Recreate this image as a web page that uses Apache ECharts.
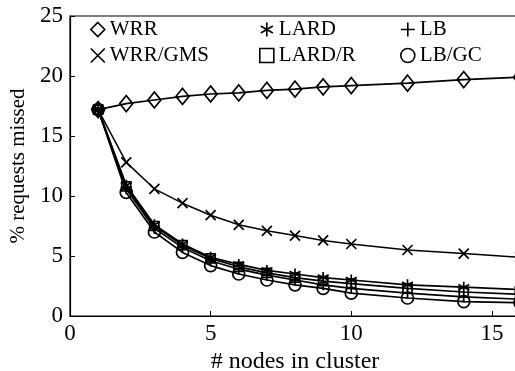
<!DOCTYPE html>
<html>
<head>
<meta charset="utf-8">
<script src="https://cdn.jsdelivr.net/npm/echarts@6/dist/echarts.min.js"></script>
<style>
    html, body { margin: 0; padding: 0; background: #fff; }
    #chart { width: 515px; height: 371px; }
</style>
</head>
<body>
<div id="chart"></div>
<script>
// nodes in cluster
var nodes = [1, 2, 3, 4, 5, 6, 7, 8, 9, 10, 12, 14, 16];
var xTicks = [0, 5, 10, 15];
var yTicks = [0, 5, 10, 15, 20, 25];

// % requests missed
var wrr    = [17.2, 17.7, 18.0, 18.3, 18.5, 18.6, 18.8, 18.9, 19.1, 19.2, 19.4, 19.7, 19.9];
var wrrGms = [17.2, 12.8, 10.6, 9.4, 8.4, 7.6, 7.1, 6.7, 6.3, 6.0, 5.5, 5.2, 4.9];
var lard   = [17.2, 10.9, 7.6, 6.0, 4.9, 4.3, 3.8, 3.5, 3.2, 3.0, 2.6, 2.4, 2.2];
var lardR  = [17.2, 10.8, 7.5, 5.9, 4.8, 4.1, 3.6, 3.2, 2.9, 2.7, 2.3, 2.0, 1.8];
var lb     = [17.2, 10.6, 7.3, 5.7, 4.6, 3.9, 3.4, 3.0, 2.6, 2.3, 1.9, 1.6, 1.4];
var lbGc   = [17.2, 10.3, 7.0, 5.3, 4.2, 3.5, 3.0, 2.6, 2.3, 1.9, 1.5, 1.2, 1.1];

var font = '"Liberation Serif", "DejaVu Serif", serif';

var sym = {
    diamond: 'diamond',
    star: 'path://M5,0L5,10M0.67,2.5L9.33,7.5M0.67,7.5L9.33,2.5',
    plus: 'path://M0,5L10,5M5,0L5,10',
    cross: 'path://M0,0L10,10M0,10L10,0',
    square: 'rect',
    circle: 'circle'
};

function pairs(vals) {
    return nodes.map(function (n, i) { return [n, vals[i]]; });
}

function line(name, vals, symbol, size, width) {
    return {
        name: name,
        type: 'line',
        data: pairs(vals),
        symbol: symbol,
        symbolSize: size,
        showAllSymbol: true,
        lineStyle: { color: '#000', width: width },
        itemStyle: { color: 'rgba(0,0,0,0)', borderColor: '#000', borderWidth: 1.7 },
        emphasis: { disabled: true },
        animation: false,
        z: 3
    };
}

var legendBase = {
    orient: 'vertical',
    top: 14,
    itemWidth: 14,
    itemHeight: 14,
    itemGap: 5,
    textStyle: { fontFamily: font, fontSize: 21, color: '#000', lineHeight: 20 },
    itemStyle: { color: 'rgba(0,0,0,0)', borderColor: '#000', borderWidth: 1.6 },
    selectedMode: false
};

var myChart = echarts.init(document.getElementById('chart'), null, { renderer: 'canvas' });
myChart.setOption({
    backgroundColor: '#fff',
    animation: false,
    grid: {
        left: 70, right: -5, top: 16, bottom: 55,
        show: true, borderColor: '#000', borderWidth: 1.2,
        outerBoundsMode: 'none'
    },
    legend: [
        Object.assign({}, legendBase, { left: 85, data: [{ name: 'WRR', icon: sym.diamond }, { name: 'WRR/GMS', icon: sym.cross }] }),
        Object.assign({}, legendBase, { left: 254, data: [{ name: 'LARD', icon: sym.star }, { name: 'LARD/R', icon: sym.square }] }),
        Object.assign({}, legendBase, { left: 395, data: [{ name: 'LB', icon: sym.plus }, { name: 'LB/GC', icon: sym.circle }] })
    ],
    xAxis: {
        type: 'value',
        min: 0, max: 16, interval: 5,
        name: '# nodes in cluster',
        nameLocation: 'middle',
        nameGap: 29,
        nameTextStyle: { fontFamily: font, fontSize: 24, color: '#000' },
        axisLine: { show: true, lineStyle: { color: '#000', width: 1.2 } },
        axisTick: { show: true, inside: true, length: 5, lineStyle: { color: '#000' } },
        axisLabel: {
            fontFamily: font, fontSize: 23, color: '#000', margin: 6,
            customValues: xTicks
        },
        splitLine: { show: false }
    },
    yAxis: {
        type: 'value',
        min: 0, max: 25, interval: 5,
        name: '% requests missed',
        nameLocation: 'middle',
        nameGap: 38,
        nameTextStyle: { fontFamily: font, fontSize: 21, color: '#000' },
        axisLine: { show: true, lineStyle: { color: '#000', width: 1.2 } },
        axisTick: { show: true, inside: true, length: 5, lineStyle: { color: '#000' } },
        axisLabel: {
            fontFamily: font, fontSize: 23, color: '#000', margin: 7,
            customValues: yTicks
        },
        splitLine: { show: false }
    },
    series: [
        line('WRR', wrr, sym.diamond, [13, 16], 1.7),
        line('WRR/GMS', wrrGms, sym.cross, 10, 1.5),
        line('LARD', lard, sym.star, 11, 1.7),
        line('LARD/R', lardR, sym.square, 9, 1.7),
        line('LB', lb, sym.plus, 11, 1.7),
        line('LB/GC', lbGc, sym.circle, 12, 1.7)
    ]
});
</script>
</body>
</html>
